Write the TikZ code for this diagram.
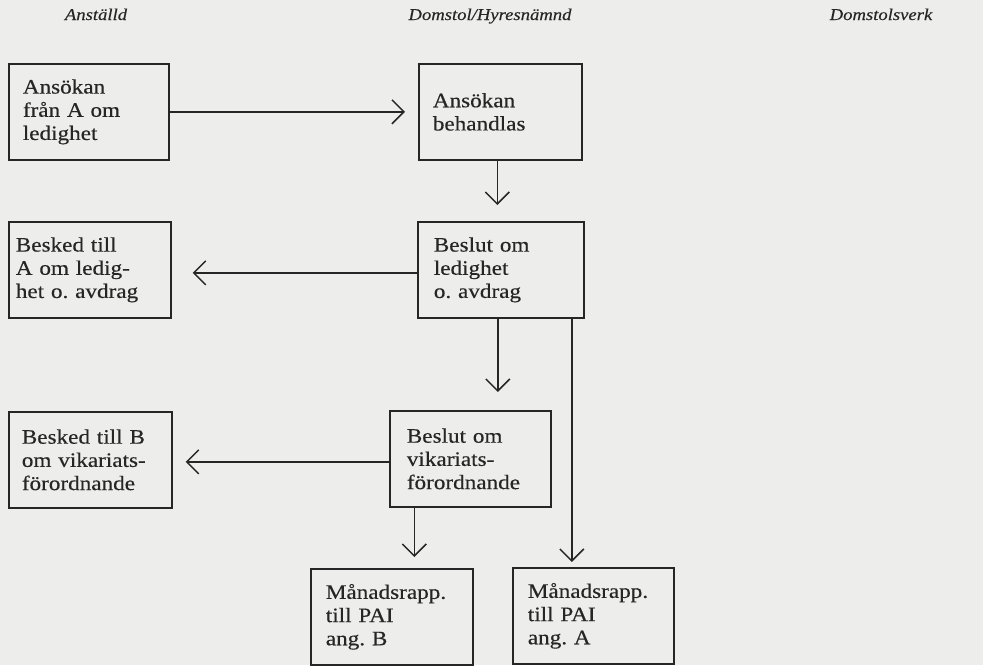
\documentclass[tikz,border=0pt]{standalone}
\usepackage{fontspec}
\setmainfont{Liberation Serif}[FakeStretch=1.13,FakeBold=0.3]
\usetikzlibrary{arrows.meta}
\definecolor{paper}{RGB}{237,237,235}
\definecolor{ink}{RGB}{38,38,38}
\frenchspacing
\begin{document}
\begin{tikzpicture}[x=1pt,y=-1pt,
  box/.style 2 args={draw=ink, line width=1.7pt, anchor=north west,
    minimum height=96pt, text width=#1, inner xsep=#2, inner ysep=0pt,
    align=left, text=ink, font=\fontsize{20.5}{23.2}\selectfont},
  head/.style={text=ink, font=\fontsize{16.5}{18}\selectfont\itshape, anchor=base},
  arr/.style={draw=ink, line width=1.5pt,
    -{Straight Barb[length=12pt,width=24pt,line width=1.5pt]}}]
\useasboundingbox[fill=paper] (0,0) rectangle (983,665);

% column headings
\node[head] (hA) at (96,20) {Anställd};
\node[head] (hD) at (490,20) {Domstol/Hyresnämnd};
\node[head] (hV) at (881,20) {Domstolsverk};

% boxes
\node[box={132pt}{14pt}] (A1) at (8,63)   {Ansökan\\från A om\\ledighet};
\node[box={135pt}{14pt}] (D1) at (418,63) {Ansökan\\behandlas};
\node[box={148pt}{7pt}]  (A2) at (8,221)  {Besked till\\A om ledig-\\het o. avdrag};
\node[box={134pt}{16pt}] (D2) at (417,221) {Beslut om\\ledighet\\o. avdrag};
\node[box={137pt}{13pt}] (A3) at (8,411)  {Besked till B\\om vikariats-\\förordnande};
\node[box={127pt}{17pt}] (D3) at (389,410) {Beslut om\\vikariats-\\förordnande};
\node[box={132pt}{15pt}] (MB) at (310,568) {Månadsrapp.\\till PAI\\ang. B};
\node[box={131pt}{15pt}] (MA) at (512,567) {Månadsrapp.\\till PAI\\ang. A};

% connectors
\draw[arr, shorten >=13pt] (A1.east) -- (D1.west);
\draw[arr, shorten >=16pt] ([xshift=-3pt]D1.south) -- ([xshift=-3pt]D1.south |- D2.north);
\draw[arr, shorten >=21pt] ([yshift=-3pt]D2.west) -- ([yshift=-3pt]A2.east);
\draw[arr, shorten >=18pt] ([xshift=-3pt]D2.south) -- ([xshift=-3pt]D2.south |- D3.north);
\draw[arr, shorten >=13pt] ([yshift=-3pt]D3.west) -- ([yshift=-2pt]A3.east);
\draw[arr, shorten >=11pt] ([xshift=-56pt]D3.south) -- ([xshift=-56pt]D3.south |- MB.north);
\draw[arr, shorten >=5pt]  ([xshift=71pt]D2.south) -- ([xshift=71pt]D2.south |- MA.north);
\end{tikzpicture}
\end{document}
